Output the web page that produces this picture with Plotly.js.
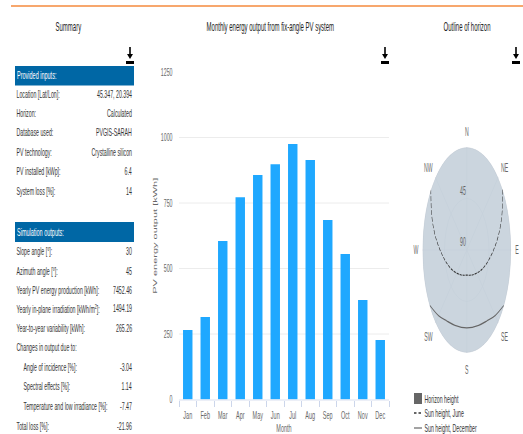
<!DOCTYPE html>
<html><head><meta charset="utf-8">
<script src="https://cdn.plot.ly/plotly-3.0.1.min.js"></script>
<style>
html,body{margin:0;padding:0;background:#fff;overflow:hidden;width:523px;height:434px}
#main,#polar{position:absolute;top:0;left:0;transform-origin:0 0}
</style></head><body>
<div id="main"></div><div id="polar"></div>
<script>
const months=['Jan','Feb','Mar','Apr','May','Jun','Jul','Aug','Sep','Oct','Nov','Dec'];
const energy=[265,315,605,772,857,898,975,914,685,555,380,227];
const inputLabels=['Location [Lat/Lon]:','Horizon:','Database used:','PV technology:','PV installed [kWp]:','System loss [%]:'];
const inputValues=['45.347, 20.394','Calculated','PVGIS-SARAH','Crystalline silicon','6.4','14'];
const outputLabels=['Slope angle [°]:','Azimuth angle [°]:','Yearly PV energy production [kWh]:','Yearly in-plane irradiation [kWh/m<sup>2</sup>]:','Year-to-year variability [kWh]:','Changes in output due to:','Angle of incidence [%]:','Spectral effects [%]:','Temperature and low irradiance [%]:','Total loss [%]:'];
const outputValues=['30','45','7452.46','1494.19','265.26','','-3.04','1.14','-7.47','-21.96'];
const inputRowY=[94,113,132,152,171,191];
const outputRowY=[251,271,290,308,328,347,367,386,406,426];
const horizonAz=[0,15,30,45,60,75,90,105,120,135,150,165,180,195,210,225,240,255,270,285,300,315,330,345,360];
const horizonH=[0.5,0.5,0.5,0.6,0.6,0.7,0.7,0.6,0.6,0.5,0.5,0.5,0.5,0.5,0.5,0.5,0.6,0.6,0.7,0.7,0.6,0.6,0.5,0.5,0.5];
const juneAz=[54,67,77,86.5,100,119,150,180,210,241,260,273.5,283,293,306];
const juneH=[0,13,23,32.6,44,55,65,68,65,55,44,32.6,23,13,0];
const decAz=[123,135,147,160,180,200,213,225,237];
const decH=[1,9,16,20,22,20,16,9,1];

const S=0.5, SP=0.432, W=523, H=434;
const px=x=>x/W, py=y=>1-y/H;
const FONT='"Liberation Sans", Arial, sans-serif';
const ann=[], shapes=[];
function text(t,x,y,anchor,size,color){ann.push({text:t,x:px(x),y:py(y),xref:'paper',yref:'paper',xanchor:anchor,yanchor:'middle',showarrow:false,font:{family:FONT,size:size,color:color},borderpad:0});}
function rect(x0,y0,x1,y1,c){shapes.push({type:'rect',xref:'paper',yref:'paper',x0:px(x0),x1:px(x1),y0:py(y0),y1:py(y1),fillcolor:c,line:{width:0},layer:'above'});}
function hline(x0,x1,y,c,w,dash){shapes.push({type:'line',xref:'paper',yref:'paper',x0:px(x0),x1:px(x1),y0:py(y),y1:py(y),line:{color:c,width:w,dash:dash||'solid'}});}
function icon(cx){
  rect(cx-0.8,47,cx+0.8,57,'#000');
  shapes.push({type:'path',xref:'paper',yref:'paper',path:`M ${px(cx-3)} ${py(54)} L ${px(cx+3)} ${py(54)} L ${px(cx)} ${py(59)} Z`,fillcolor:'#000',line:{width:0}});
  rect(cx-4,61,cx+4,64,'#000');
}
hline(11,523,6,'#f58a3c',1.5);
text('Summary',68,27,'center',12,'#222');
text('Monthly energy output from fix-angle PV system',270,27,'center',12,'#222');
text('Outline of horizon',467,27,'center',12,'#222');
icon(130);icon(385);icon(516);
rect(15,66,134,85.5,'#0067a5');
rect(15,222,134,242,'#0067a5');
text('Provided inputs:',16.5,75.5,'left',11,'#fff');
text('Simulation outputs:',16.5,232,'left',11,'#fff');
inputLabels.forEach((l,i)=>{text(l,16,inputRowY[i],'left',10.5,'#333');text(inputValues[i],132.5,inputRowY[i],'right',10.5,'#333');});
outputLabels.forEach((l,i)=>{const x=(i>=6&&i<=8)?23:16;text(l,x,outputRowY[i],'left',10.5,'#333');if(outputValues[i])text(outputValues[i],132.5,outputRowY[i],'right',10.5,'#333');});
rect(414,393,422,404,'#666');
hline(414,416.5,413,'#333',1.5);hline(418.5,421,413,'#333',1.5);
hline(414,422,428,'#666',1.2);
text('Horizon height',424,399,'left',10.5,'#333');
text('Sun height, June',424,413,'left',10.5,'#333');
text('Sun height, December',424,428,'left',10.5,'#333');

const fullW=W/S;
const mainTrace={type:'bar',x:months,y:energy,marker:{color:'#1fa8ff',line:{width:0}},name:'PV energy output',hoverinfo:'x+y'};
const mainLayout={width:fullW,height:H,margin:{l:0,r:0,t:0,b:0},paper_bgcolor:'#fff',plot_bgcolor:'#fff',showlegend:false,bargap:0.46,
 annotations:ann,shapes:shapes,font:{family:FONT},
 xaxis:{domain:[px(179),px(389)],type:'category',tickson:'boundaries',tickangle:0,ticks:'outside',ticklen:6,tickcolor:'#ccd6eb',tickwidth:2,linecolor:'#ccd6eb',linewidth:1,showgrid:false,ticklabelstandoff:5,tickfont:{size:11,color:'#666'},title:{text:'Month',font:{size:11,color:'#666'},standoff:14},automargin:false},
 yaxis:{domain:[py(399.5),py(72)],range:[0,1250],tickvals:[0,250,500,750,1000,1250],gridcolor:'#e6e6e6',gridwidth:1,zeroline:false,showline:false,tickfont:{size:10.5,color:'#666'},ticklabelstandoff:12,title:{text:'PV energy output [kWh]',font:{size:11,color:'#666'},standoff:4},automargin:false}
};

const PW=300,PH=300,R=103,CY=250,CX=467;
const polarTraces=[
 {type:'scatterpolar',mode:'lines',name:'Horizon height',theta:horizonAz,r:horizonH,fill:'toself',fillcolor:'rgba(190,203,214,0.8)',line:{color:'#b5bfc8',width:0.5,shape:'spline'}},
 {type:'scatterpolar',mode:'lines',name:'Sun height, June',theta:juneAz,r:juneH,line:{color:'#333',width:1.2,dash:'5px,2px',shape:'spline'}},
 {type:'scatterpolar',mode:'lines',name:'Sun height, December',theta:decAz,r:decH,line:{color:'#666',width:1.3,shape:'spline'}}
];
const polarLayout={width:PW,height:PH,margin:{l:0,r:0,t:0,b:0},paper_bgcolor:'rgba(0,0,0,0)',showlegend:false,font:{family:FONT},
 polar:{domain:{x:[(PW/2-R)/PW,(PW/2+R)/PW],y:[(PH/2-R)/PH,(PH/2+R)/PH]},bgcolor:'rgba(0,0,0,0)',
  angularaxis:{direction:'clockwise',rotation:90,tickmode:'array',tickvals:[0,45,90,135,180,225,270,315],ticktext:['N','NE','E','SE','S','SW','W','NW'],ticks:'outside',ticklen:6,tickcolor:'rgba(0,0,0,0)',showline:false,gridcolor:'#e0e6eb',gridwidth:1,tickfont:{size:12,color:'#666'}},
  radialaxis:{range:[90,0],angle:90,tickangle:90,side:'counterclockwise',tickmode:'array',tickvals:[45,90],ticktext:['45<br> ','90<br> '],ticks:'',showline:false,gridcolor:'#e0e6eb',gridwidth:1,tickfont:{size:12,color:'#666'}}}
};
const cfg={displayModeBar:false,staticPlot:true};
Promise.all([Plotly.newPlot('main',[mainTrace],mainLayout,cfg),Plotly.newPlot('polar',polarTraces,polarLayout,cfg)]).then(()=>{
  document.getElementById('main').style.transform=`scaleX(${S})`;
  const p=document.getElementById('polar');
  p.style.left=(CX-PW/2*SP)+'px';p.style.top=(CY-PH/2)+'px';p.style.transform=`scaleX(${SP})`;
});
</script></body></html>
